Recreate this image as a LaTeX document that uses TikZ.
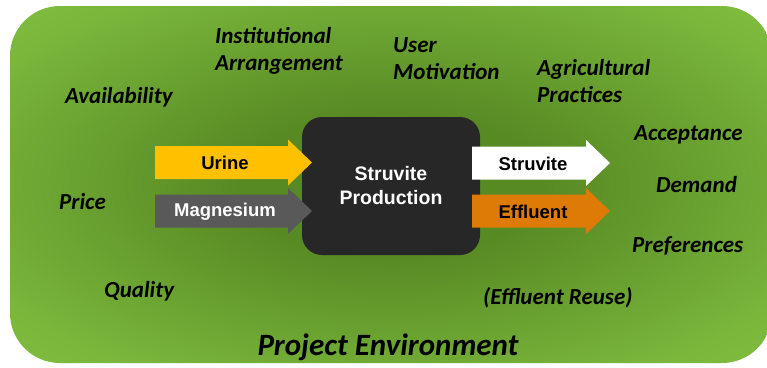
\documentclass[tikz,border=0pt]{standalone}
\usepackage{fontspec}
\setmainfont{Carlito}
\newfontfamily\arialfont{Liberation Sans}
\definecolor{envlight}{HTML}{8ECF45}
\definecolor{envmid}{HTML}{79B63B}
\definecolor{envdark}{HTML}{588A24}
\definecolor{procbox}{HTML}{272727}
\definecolor{urinecol}{HTML}{FFC000}
\definecolor{magcol}{HTML}{595959}
\definecolor{efflcol}{HTML}{DE7A06}
\pgfdeclareradialshading{envshade}{\pgfpoint{0bp}{0bp}}{%
  color(0bp)=(envdark); color(10bp)=(envdark); color(30bp)=(envmid);
  color(48bp)=(envlight); color(75bp)=(envlight)}
% block arrow from x=#1 to tip x=#2 on the line y=#3
\newcommand\flowshape[4]{%
  \fill[#4] (#1,#3-16.5) -- (#2-24,#3-16.5) -- (#2-24,#3-23) -- (#2,#3)
    -- (#2-24,#3+23) -- (#2-24,#3+16.5) -- (#1,#3+16.5) -- cycle;}
\tikzset{
  factor/.style={font=\fontsize{23}{27}\selectfont\bfseries\itshape, align=left, inner sep=0pt},
  flowtext/.style={font=\arialfont\fontsize{18.5}{22}\selectfont\bfseries, inner sep=0pt},
}
\begin{document}
\begin{tikzpicture}[x=1pt,y=-1pt]
  \useasboundingbox (0,0) rectangle (767,367);
  \fill[white] (0,0) rectangle (767,367);
  % project environment
  \path[shading=envshade, rounded corners=50pt] (10,6) rectangle (772,363);
  % process
  \node[fill=procbox, rounded corners=20pt, minimum width=178pt, minimum height=138pt,
        text=white, align=center, font=\arialfont\fontsize{19.5}{24}\selectfont\bfseries] (proc) at (391,186)
        {Struvite\\Production};
  % inputs and outputs
  \flowshape{155}{312}{162.5}{urinecol}
  \flowshape{155}{312}{211}{magcol}
  \flowshape{472}{610}{163}{white}
  \flowshape{472}{610}{211}{efflcol}
  \node[flowtext, text=black] (urinet) at (225,163) {Urine};
  \node[flowtext, text=white] (magt) at (225,212) {Magnesium};
  \node[flowtext, text=black] (struvt) at (533,164) {Struvite};
  \node[flowtext, text=black] (efflt) at (533,212) {Effluent};
  % influencing factors
  \node[factor, anchor=west] (inst) at (215,51) {Institutional\\Arrangement};
  \node[factor, anchor=west] (user) at (393,59) {User\\Motivation};
  \node[factor, anchor=west] (agri) at (537,81) {Agricultural\\Practices};
  \node[factor, anchor=west] (avail) at (65,97) {Availability};
  \node[factor, anchor=west] (price) at (59,202) {Price};
  \node[factor, anchor=west] (qual) at (104,291) {Quality};
  \node[factor, anchor=west] (accept) at (634,135) {Acceptance};
  \node[factor, anchor=west] (demand) at (656,185) {Demand};
  \node[factor, anchor=west] (pref) at (632,246) {Preferences};
  \node[factor, anchor=west] (reuse) at (483,298) {(Effluent Reuse)};
  \node[factor, anchor=center, font=\fontsize{31}{35}\selectfont\bfseries\itshape] (env) at (388,347) {Project Environment};
\end{tikzpicture}
\end{document}
